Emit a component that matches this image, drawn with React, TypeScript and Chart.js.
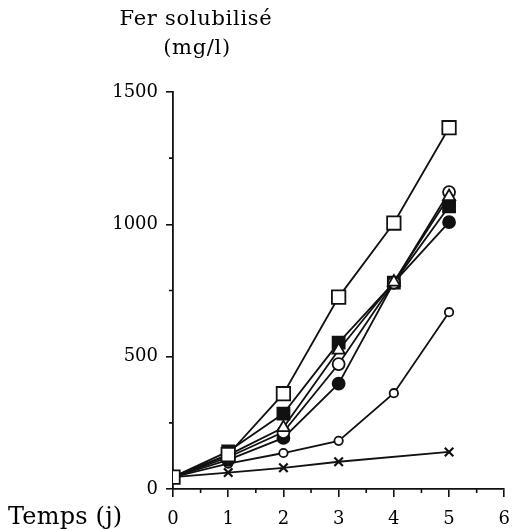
import React, { useEffect, useRef } from "react";
import { Chart, registerables } from "chart.js";

Chart.register(...registerables);

const days = [0, 1, 2, 3, 4, 5];
const openSquare = [45, 130, 360, 725, 1005, 1365];
const filledSquare = [45, 142, 285, 553, 780, 1068];
const openTriangle = [45, 128, 232, 525, 782, 1105];
const openCircle = [45, 120, 215, 472, 780, 1122];
const filledCircle = [45, 110, 193, 398, 780, 1008];
const smallCircle = [45, 96, 136, 182, 362, 668];
const crossSeries: (number | null)[] = [45, 62, 80, 103, null, 140];

const xTicks = [0, 1, 2, 3, 4, 5, 6];
const xMinorTicks = [0.5, 1.5, 2.5, 3.5, 4.5, 5.5];
const yTicks = [0, 500, 1000, 1500];
const yMinorTicks = [250, 750, 1250];
const titleLines = ["Fer solubilisé", "(mg/l)"];
const xTitle = "Temps (j)";

const FONT = "'DejaVu Serif', serif";

function pts(vals: (number | null)[]) {
  return days.map((d, i) => ({ x: d, y: vals[i] }));
}

export default function App() {
  const ref = useRef<HTMLCanvasElement>(null);
  useEffect(() => {
    document.body.style.margin = "0";
    const textPlugin = {
      id: "texts",
      afterDraw(chart: any) {
        const ctx = chart.ctx;
        ctx.save();
        // minor ticks (shorter than major ones)
        const xs = chart.scales.x;
        const ys = chart.scales.y;
        ctx.strokeStyle = "#111";
        ctx.lineWidth = 1.6;
        ctx.beginPath();
        xMinorTicks.forEach((v) => {
          const px = xs.getPixelForValue(v);
          ctx.moveTo(px, xs.top);
          ctx.lineTo(px, xs.top + 4);
        });
        yMinorTicks.forEach((v) => {
          const py = ys.getPixelForValue(v);
          ctx.moveTo(ys.right, py);
          ctx.lineTo(ys.right - 4, py);
        });
        ctx.stroke();

        ctx.fillStyle = "#000";
        ctx.textAlign = "center";
        ctx.textBaseline = "middle";
        ctx.font = `21px ${FONT}`;
        (ctx as any).letterSpacing = "0.7px";
        ctx.fillText(titleLines[0], 196, 20);
        ctx.fillText(titleLines[1], 197, 49);
        ctx.textAlign = "left";
        ctx.font = `24px ${FONT}`;
        (ctx as any).letterSpacing = "0.2px";
        ctx.fillText(xTitle, 8, 518);
        ctx.restore();
      },
    };
    const base = {
      borderColor: "#111",
      borderWidth: 1.8,
      pointBorderColor: "#111",
      pointBorderWidth: 1.8,
      spanGaps: true,
    };
    const chart = new Chart(ref.current!, {
      type: "line",
      data: {
        datasets: [
          { ...base, label: "open square", order: 0, data: pts(openSquare), pointStyle: "rect", pointRadius: 9.5, pointBackgroundColor: "#fff" },
          { ...base, label: "filled square", order: 3, data: pts(filledSquare), pointStyle: "rect", pointRadius: 8.5, pointBackgroundColor: "#111" },
          { ...base, label: "open triangle", order: 1, data: pts(openTriangle), pointStyle: "triangle", pointRadius: 7, pointBackgroundColor: "#fff" },
          { ...base, label: "open circle", order: 2, data: pts(openCircle), pointStyle: "circle", pointRadius: 6, pointBackgroundColor: "#fff" },
          { ...base, label: "filled circle", order: 4, data: pts(filledCircle), pointStyle: "circle", pointRadius: 6, pointBackgroundColor: "#111" },
          { ...base, label: "small circle", order: 5, data: pts(smallCircle), pointStyle: "circle", pointRadius: 4.2, pointBackgroundColor: "#fff" },
          { ...base, label: "cross", order: 6, data: pts(crossSeries), pointStyle: "crossRot", pointRadius: 6, pointBackgroundColor: "#fff", pointBorderWidth: 2.2 },
        ] as any,
      },
      options: {
        animation: false,
        responsive: false,
        layout: { padding: { top: 92, right: 3, left: 0, bottom: 0 } },
        plugins: { legend: { display: false }, tooltip: { enabled: false } },
        scales: {
          x: {
            type: "linear",
            min: 0,
            max: 6,
            afterFit(scale: any) { scale.height = 41; },
            afterBuildTicks(scale: any) {
              scale.ticks = xTicks.map((v) => ({ value: v }));
            },
            border: { display: true, color: "#111", width: 1.8 },
            grid: { drawOnChartArea: false, color: "#111", tickLength: 8, lineWidth: 1.6 },
            ticks: {
              autoSkip: false,
              maxRotation: 0,
              color: "#000",
              padding: 12,
              font: { family: FONT, size: 18 },
              callback: (v: any) => String(v),
            },
          },
          y: {
            min: 0,
            max: 1500,
            afterFit(scale: any) { scale.width = 173; },
            afterBuildTicks(scale: any) {
              scale.ticks = yTicks.map((v) => ({ value: v }));
            },
            border: { display: true, color: "#111", width: 1.8 },
            grid: { drawOnChartArea: false, color: "#111", tickLength: 7, lineWidth: 1.6 },
            ticks: {
              autoSkip: false,
              color: "#000",
              padding: 8,
              font: { family: FONT, size: 18 },
              callback: (v: any) => String(v),
            },
          },
        },
      } as any,
      plugins: [textPlugin],
    });
    return () => chart.destroy();
  }, []);
  return <canvas ref={ref} width={522} height={530} style={{ display: "block" }} />;
}
